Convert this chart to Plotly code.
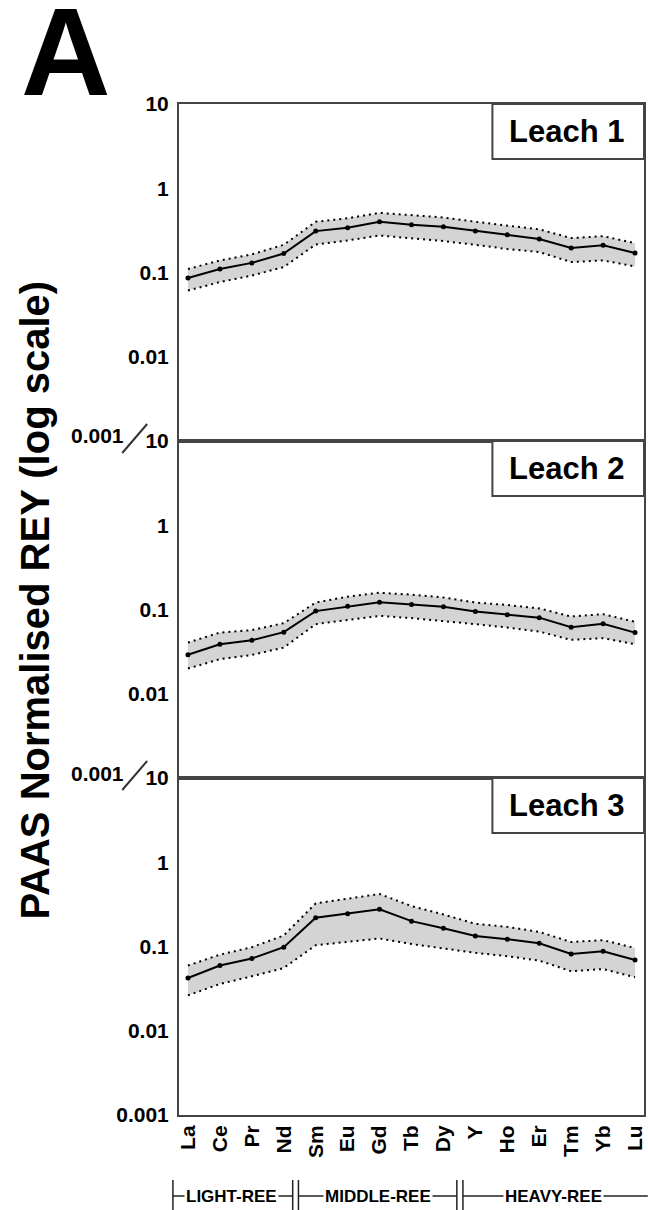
import plotly.graph_objects as go
from plotly.subplots import make_subplots

# ---------------- data ----------------
elements = ["La", "Ce", "Pr", "Nd", "Sm", "Eu", "Gd", "Tb", "Dy", "Y", "Ho", "Er", "Tm", "Yb", "Lu"]

leach1_mean = [0.086, 0.11, 0.13, 0.168, 0.31, 0.34, 0.40, 0.37, 0.35, 0.31, 0.28, 0.25, 0.195, 0.21, 0.17]
leach1_upper = [0.11, 0.139, 0.164, 0.213, 0.40, 0.44, 0.51, 0.48, 0.45, 0.40, 0.36, 0.325, 0.256, 0.27, 0.223]
leach1_lower = [0.061, 0.077, 0.092, 0.116, 0.215, 0.24, 0.275, 0.254, 0.236, 0.213, 0.19, 0.175, 0.133, 0.139, 0.118]

leach2_mean = [0.029, 0.0387, 0.0432, 0.0538, 0.0957, 0.109, 0.122, 0.115, 0.108, 0.0946, 0.0865, 0.080, 0.0617, 0.0676, 0.0532]
leach2_upper = [0.0405, 0.0532, 0.0569, 0.0689, 0.121, 0.142, 0.158, 0.150, 0.139, 0.121, 0.113, 0.103, 0.0826, 0.0881, 0.0714]
leach2_lower = [0.0199, 0.0257, 0.0289, 0.0353, 0.067, 0.0748, 0.0841, 0.079, 0.0733, 0.067, 0.0611, 0.0547, 0.0436, 0.0457, 0.0387]

leach3_mean = [0.0423, 0.0594, 0.072, 0.098, 0.219, 0.245, 0.276, 0.20, 0.165, 0.133, 0.122, 0.109, 0.0817, 0.088, 0.0693]
leach3_upper = [0.0594, 0.080, 0.098, 0.135, 0.325, 0.369, 0.42, 0.302, 0.24, 0.186, 0.171, 0.149, 0.113, 0.119, 0.096]
leach3_lower = [0.0263, 0.0359, 0.0443, 0.0556, 0.1035, 0.113, 0.1245, 0.107, 0.0946, 0.084, 0.0767, 0.068, 0.0508, 0.054, 0.0431]

panel_names = ["Leach 1", "Leach 2", "Leach 3"]
y_tick_vals = [10, 1, 0.1, 0.01, 0.001]
y_tick_text = ["10", "1", "0.1", "0.01", "0.001"]

groups = ["LIGHT-REE", "MIDDLE-REE", "HEAVY-REE"]
group_spans = [(-0.47, 3.28), (3.46, 8.42), (8.61, 14.4)]
group_label_x = [1.37, 5.96, 11.46]

# ---------------- style ----------------
FONT = "Liberation Sans, Arial, Helvetica, sans-serif"
W, H = 648, 1210
ML, MR, MT, MB = 179, 2, 104, 95
XMIN, XMAX = -0.28, 14.28
FRAME = "#444444"
BAND = "#d4d4d4"

series = [
    (leach1_mean, leach1_upper, leach1_lower),
    (leach2_mean, leach2_upper, leach2_lower),
    (leach3_mean, leach3_upper, leach3_lower),
]

fig = make_subplots(rows=3, cols=1, shared_xaxes=True, vertical_spacing=0)
x = list(range(len(elements)))

for i, (mean, up, lo) in enumerate(series, start=1):
    fig.add_trace(go.Scatter(x=x, y=lo, mode="lines", line=dict(width=0, color=BAND),
                             showlegend=False, hoverinfo="skip"), row=i, col=1)
    fig.add_trace(go.Scatter(x=x, y=up, mode="lines", line=dict(width=0, color=BAND),
                             fill="tonexty", fillcolor=BAND, showlegend=False, hoverinfo="skip"), row=i, col=1)
    for band in (lo, up):
        fig.add_trace(go.Scatter(x=x, y=band, mode="lines",
                                 line=dict(color="black", width=2, dash="2px,4px"),
                                 showlegend=False), row=i, col=1)
    fig.add_trace(go.Scatter(x=x, y=mean, mode="lines+markers",
                             line=dict(color="black", width=2),
                             marker=dict(color="black", size=5),
                             showlegend=False), row=i, col=1)

tickfont = dict(family=FONT, size=21, color="black", weight="bold")

for i in range(1, 4):
    if i < 3:
        tv, tt = y_tick_vals[:4], y_tick_text[:4]
    else:
        tv, tt = y_tick_vals, y_tick_text
    fig.update_yaxes(type="log", range=[-3, 1], showline=True, mirror=True,
                     linecolor=FRAME, linewidth=2, showgrid=False, zeroline=False,
                     ticks="", tickvals=tv, ticktext=tt, tickfont=tickfont,
                     ticklabelstandoff=4, row=i, col=1)
    fig.update_xaxes(range=[XMIN, XMAX], showline=True, mirror=True,
                     linecolor=FRAME, linewidth=2, showgrid=False, zeroline=False,
                     ticks="", tickvals=x, ticktext=elements, tickfont=tickfont,
                     tickangle=-90, showticklabels=(i == 3), row=i, col=1)

plot_w = W - ML - MR
plot_h = H - MT - MB


def px_x(px):
    return (px - ML) / plot_w


def px_y(py):
    return (H - MB - py) / plot_h


def data_x(v):
    return (v - XMIN) / (XMAX - XMIN)


shapes = []
annotations = []

# legend boxes
for i, name in enumerate(panel_names, start=1):
    xr = "x domain" if i == 1 else f"x{i} domain"
    yr = "y domain" if i == 1 else f"y{i} domain"
    shapes.append(dict(type="rect", xref=xr, yref=yr, x0=0.674, x1=1.0, y0=0.837, y1=1.0,
                       line=dict(color=FRAME, width=2), fillcolor="white", layer="above"))
    annotations.append(dict(xref=xr, yref=yr, x=0.833, y=0.918, text=name, showarrow=False,
                            font=dict(family=FONT, size=31, color="black", weight="bold"),
                            xanchor="center", yanchor="middle"))

# axis break labels between panels
for b in (1, 2):
    yb = 1 - b / 3.0
    py_b = H - MB - yb * plot_h
    annotations.append(dict(xref="paper", yref="paper", x=px_x(126), y=px_y(py_b - 5),
                            text="0.001", showarrow=False, xanchor="right", yanchor="middle",
                            font=dict(family=FONT, size=21, color="black", weight="bold")))
    shapes.append(dict(type="line", xref="paper", yref="paper",
                       x0=px_x(122), y0=px_y(py_b + 12), x1=px_x(147), y1=px_y(py_b - 17),
                       line=dict(color="#333333", width=2)))

# big panel letter
annotations.append(dict(xref="paper", yref="paper", x=px_x(66), y=px_y(52), text="A",
                        showarrow=False, xanchor="center", yanchor="middle",
                        font=dict(family=FONT, size=124, color="black", weight="bold")))

# y-axis title
annotations.append(dict(xref="paper", yref="paper", x=px_x(34), y=px_y(600),
                        text="PAAS Normalised REY (log scale)", textangle=-90, showarrow=False,
                        xanchor="center", yanchor="middle",
                        font=dict(family=FONT, size=40, color="black", weight="bold")))

# REE group brackets
gy = px_y(1196)
for (g, (a, b), cx) in zip(groups, group_spans, group_label_x):
    shapes.append(dict(type="line", xref="paper", yref="paper", x0=data_x(a), x1=data_x(b),
                       y0=gy, y1=gy, line=dict(color="#222222", width=1.5)))
    annotations.append(dict(xref="paper", yref="paper", x=data_x(cx), y=gy, text=g,
                            showarrow=False, xanchor="center", yanchor="middle",
                            bgcolor="white", borderpad=1,
                            font=dict(family=FONT, size=17, color="black", weight="bold")))
# vertical bracket ticks
for v in (-0.47, 3.24, 3.28, 3.46, 3.50, 8.42, 8.61):
    pass
for v in (-0.47, 3.28, 3.46, 8.42, 8.61):
    shapes.append(dict(type="line", xref="paper", yref="paper", x0=data_x(v), x1=data_x(v),
                       y0=px_y(1180), y1=px_y(1210), line=dict(color="#222222", width=1.5)))

fig.update_layout(
    width=W, height=H,
    margin=dict(l=ML, r=MR, t=MT, b=MB),
    paper_bgcolor="white", plot_bgcolor="white",
    shapes=shapes, annotations=annotations,
    showlegend=False,
    font=dict(family=FONT, color="black"),
)

fig.write_html("out.html")
